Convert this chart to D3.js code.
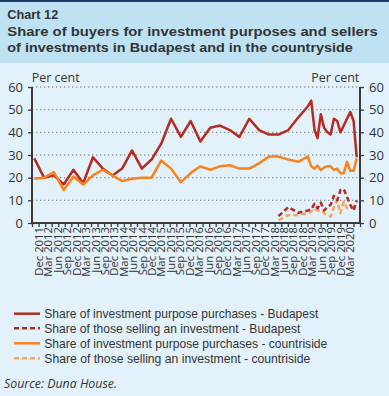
<!DOCTYPE html>
<html>
<head>
<meta charset="utf-8">
<style>
    body {margin: 0; background: #e3f2fa;}
    text {font-family: "Open Sans", "Noto Sans", sans-serif; fill: #333;}
    .legend text, .title {font-family: "Liberation Sans", Arial, sans-serif;}
</style>
<script src="https://d3js.org/d3.v7.min.js"></script>
</head>
<body>
<script>

    // data, quarterly up to Dec 2018, then monthly
    var buyDates = ["2011-12","2012-03","2012-06","2012-09","2012-12","2013-03","2013-06","2013-09","2013-12",
        "2014-03","2014-06","2014-09","2014-12","2015-03","2015-06","2015-09","2015-12","2016-03","2016-06",
        "2016-09","2016-12","2017-03","2017-06","2017-09","2017-12","2018-03","2018-06","2018-09","2018-12",
        "2019-01","2019-02","2019-03","2019-04","2019-05","2019-06","2019-07","2019-08","2019-09","2019-10",
        "2019-11","2019-12","2020-01","2020-02","2020-03"];
    var buyBudapest = [28.5,20,21,17,23.5,17.5,29,24,21,24,32,24,28,35,46,38,45,36,42,43,41,38,46,41,39,39,41,46.5,51.5,
        54,41,37.5,48,42,40,39,46,45,40,43,46,49,45,29];
    var buyCountry = [19.5,20,22.5,14.5,20.5,17,21,23.5,21,18.5,19.5,20,20,27.5,24,18,22,25,23.5,25,25.5,24,24,26.3,29.3,29.3,28,27,29.3,
        25,24,25.3,23.4,24.5,25,25,23.4,24,22,22,27,23,23,28.5];

    var sellDates = ["2018-03","2018-06","2018-09","2018-12",
        "2019-01","2019-02","2019-03","2019-04","2019-05","2019-06","2019-07","2019-08","2019-09","2019-10",
        "2019-11","2019-12","2020-01","2020-02","2020-03"];
    var sellBudapest = [3,7,4.5,5.5,6,8.5,6.5,9,5.5,7,8,12,10,14.5,15,11.5,8,5.5,10];
    var sellCountry = [1.3,3.5,3.5,4.3,5,6.5,5.5,5.5,4.3,3.5,2.8,7,10,4.3,9.4,6.5,7,7.2,9.4];

    // quarterly labels Dec 2011 .. Mar 2020
    var qMonths = ["Mar", "Jun", "Sep", "Dec"];
    var tickLabels = ["Dec 2011"];
    for (var yr = 2012; yr <= 2020; yr++) {
        for (var q = 0; q < 4; q++) {
            if (yr == 2020 && q > 0) break;
            tickLabels.push(qMonths[q] + " " + yr);
        }
    }

    var yTicks = [0, 10, 20, 30, 40, 50, 60];

    var legendNames = ["Share of investment purpose purchases - Budapest",
        "Share of those selling an investment - Budapest",
        "Share of investment purpose purchases - countriside",
        "Share of those selling an investment - countriside"];

    var width = 389, height = 396;
    var red = "#b72a21", orange = "#f7821f", lightOrange = "#fba45c";

    var parse = d3.timeParse("%Y-%m");

    var svg = d3.select("body").append("svg")
        .attr("width", width)
        .attr("height", height)

    svg.append("rect").attr("width", width).attr("height", height).attr("fill", "#e3f2fa")
    svg.append("rect").attr("width", width).attr("height", 63).attr("fill", "#bfe2f2")
    svg.append("rect").attr("width", width).attr("height", 2).attr("fill", "#1d3a68")

    // title
    var titles = [["Chart 12", 19, 51], ["Share of buyers for investment purposes and sellers", 35.5, 370.5],
        ["of investments in Budapest and in the countryside", 52, 345.5]];
    titles.forEach(function (t) {
        svg.append("text")
            .attr("class", "title")
            .attr("x", 7.3).attr("y", t[1])
            .attr("font-size", 13.5).attr("font-weight", "bold")
            .attr("textLength", t[2]).attr("lengthAdjust", "spacingAndGlyphs")
            .text(t[0])
    })

    var plot = { left: 32, right: 360, top: 87, bottom: 223 };

    var x = d3.scaleTime()
        .domain([parse("2011-12"), parse("2020-03")])
        .range([34.3, 356.7]);

    var y = d3.scaleLinear()
        .domain([0, 60])
        .range([plot.bottom, plot.top]);

    var xLabels = d3.scalePoint()
        .domain(tickLabels)
        .range([39, 350]);

    // gridlines
    svg.append("g").selectAll("line")
        .data(yTicks.slice(1))
        .enter().append("line")
        .attr("x1", plot.left).attr("x2", plot.right)
        .attr("y1", function (d) { return y(d) }).attr("y2", function (d) { return y(d) })
        .attr("stroke", "#8f9498").attr("stroke-width", 1.3).attr("stroke-dasharray", "1.3,2.7")

    // axes
    var leftAxis = svg.append("g")
        .attr("transform", "translate(" + plot.left + ",0)")
        .call(d3.axisLeft(y).tickValues(yTicks).tickSize(4).tickPadding(5))
    var rightAxis = svg.append("g")
        .attr("transform", "translate(" + plot.right + ",0)")
        .call(d3.axisRight(y).tickValues(yTicks).tickSize(4).tickPadding(5))
    var bottomAxis = svg.append("g")
        .attr("transform", "translate(0," + plot.bottom + ")")
        .call(d3.axisBottom(d3.scaleLinear().domain([0, 50]).range([plot.left, plot.right]))
            .ticks(50).tickSize(4).tickFormat(""))

    ;[leftAxis, rightAxis, bottomAxis].forEach(function (a) {
        a.select(".domain").attr("stroke", "#3a3a3a").attr("stroke-width", 2)
        a.selectAll(".tick line").attr("stroke", "#3a3a3a").attr("stroke-width", 1.3)
        a.selectAll("text").attr("font-size", 13).attr("fill", "#333")
    })
    leftAxis.select(".domain").attr("d", "M0," + plot.top + "V" + (plot.bottom + 1))
    rightAxis.select(".domain").attr("d", "M0," + plot.top + "V" + (plot.bottom + 1))
    bottomAxis.select(".domain").attr("d", "M" + plot.left + ",0H" + plot.right)

    // rotated date labels
    svg.append("g").selectAll("text")
        .data(tickLabels)
        .enter().append("text")
        .attr("transform", function (d) { return "translate(" + xLabels(d) + "," + (plot.bottom + 4) + ") rotate(-90)" })
        .attr("dy", "0.35em")
        .attr("text-anchor", "end")
        .attr("font-size", 11.3)
        .text(function (d) { return d })

    svg.append("text").attr("x", 31.7).attr("y", 81.7).attr("font-size", 12.5).text("Per cent")
    svg.append("text").attr("x", 359.3).attr("y", 81.7).attr("font-size", 12.5).attr("text-anchor", "end").text("Per cent")

    var line = d3.line()
        .x(function (d) { return x(parse(d[0])) })
        .y(function (d) { return y(d[1]) });

    var series = [
        { dates: buyBudapest.map(function (v, i) { return [buyDates[i], v] }), color: red, dash: null },
        { dates: buyCountry.map(function (v, i) { return [buyDates[i], v] }), color: orange, dash: null },
        { dates: sellCountry.map(function (v, i) { return [sellDates[i], v] }), color: lightOrange, dash: "5,3" },
        { dates: sellBudapest.map(function (v, i) { return [sellDates[i], v] }), color: red, dash: "5,3" }
    ];

    svg.append("g").selectAll("path")
        .data(series)
        .enter().append("path")
        .attr("d", function (d) { return line(d.dates) })
        .attr("fill", "none")
        .attr("stroke", function (d) { return d.color })
        .attr("stroke-width", 2.5)
        .attr("stroke-linejoin", "round")
        .attr("stroke-dasharray", function (d) { return d.dash })

    // legend
    var legendStyle = [[red, null], [red, "5,3"], [orange, null], [lightOrange, "5,3"]];
    var legendY = [313.7, 328.3, 343.3, 358.3];
    var legendLen = [274, 256, 283, 266];
    var legend = svg.append("g").attr("class", "legend").selectAll("g")
        .data(legendNames)
        .enter().append("g")
        .attr("transform", function (d, i) { return "translate(0," + legendY[i] + ")" })
    legend.append("line")
        .attr("x1", 14).attr("x2", 40)
        .attr("stroke", function (d, i) { return legendStyle[i][0] })
        .attr("stroke-dasharray", function (d, i) { return legendStyle[i][1] })
        .attr("stroke-width", 2.5)
    legend.append("text")
        .attr("x", 44.3).attr("y", 4.3)
        .attr("font-size", 12.4)
        .attr("textLength", function (d, i) { return legendLen[i] }).attr("lengthAdjust", "spacingAndGlyphs")
        .text(function (d) { return d })

    svg.append("text").attr("x", 4).attr("y", 388.3)
        .attr("font-size", 12.5).attr("font-style", "italic")
        .attr("textLength", 113).attr("lengthAdjust", "spacingAndGlyphs")
        .text("Source: Duna House.")

</script>
</body>
</html>
